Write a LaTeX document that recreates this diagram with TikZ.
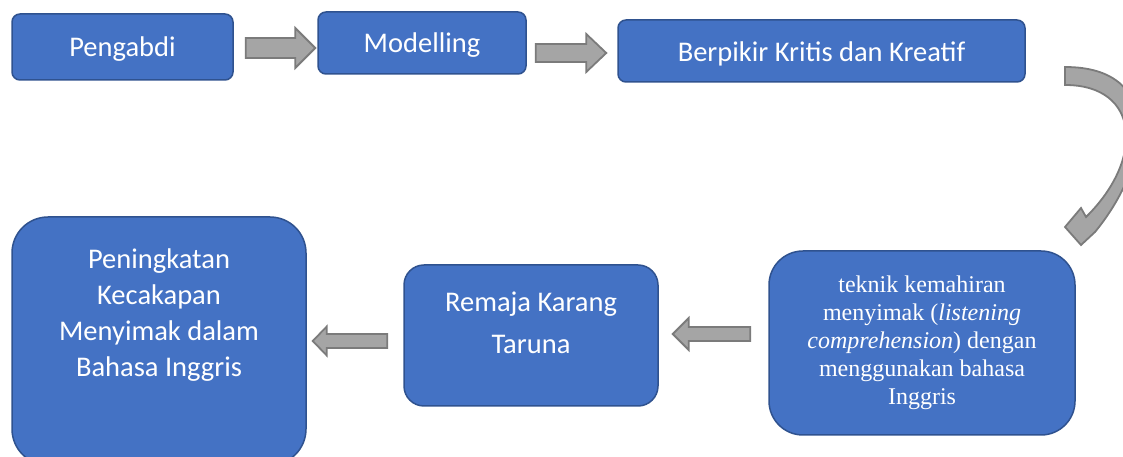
\documentclass[tikz,border=0pt]{standalone}
\usepackage{fontspec}
\setmainfont{Carlito}
\newfontfamily\timesfont{Liberation Serif}
\usetikzlibrary{calc}
\definecolor{boxblue}{HTML}{4472C4}
\definecolor{boxline}{HTML}{2F528F}
\definecolor{arrowfill}{HTML}{A5A5A5}
\definecolor{arrowline}{HTML}{7B7B7B}

\begin{document}
\begin{tikzpicture}[x=1pt,y=1pt,
  box node/.style={rectangle,draw=boxline,fill=boxblue,line width=1.5pt,text=white,align=center,
    font=\fontsize{28.5}{36}\selectfont},
  top node/.style={box node,rounded corners=8pt,text height=25pt,text depth=5pt},
  fat/.style args={#1/#2/#3}{draw=arrowline,fill=arrowfill,line width=1.8pt,line join=miter,
    to path={let \p1=(\tikztostart), \p2=(\tikztotarget), \n1={sign(\x2-\x1)} in
      (\x1,\y1+#1) -- (\x2-\n1*#3,\y1+#1) -- (\x2-\n1*#3,\y1+#2) -- (\x2,\y1)
      -- (\x2-\n1*#3,\y1-#2) -- (\x2-\n1*#3,\y1-#1) -- (\x1,\y1-#1) -- cycle}}]
  \clip (0,0) rectangle (1123,457);

  \node[top node,minimum width=221,minimum height=66] (pengabdi) at (122.5,410) {Pengabdi};
  \node[top node,minimum width=208,minimum height=62] (modelling) at (422,414) {Modelling};
  \node[top node,minimum width=407,minimum height=62,text height=26pt] (kritis) at (821.5,406) {Berpikir Kritis dan Kreatif};
  \node[box node,rounded corners=34pt,minimum width=306,minimum height=184,
    font=\timesfont\fontsize{24}{28}\selectfont] (teknik) at (922,114)
    {teknik kemahiran\\menyimak (\textit{listening}\\\textit{comprehension}) dengan\\menggunakan bahasa\\Inggris};
  \node[box node,rounded corners=20pt,minimum width=254,minimum height=141,
    font=\fontsize{28.5}{42}\selectfont,text depth=26pt] (remaja) at (531,121.5) {Remaja Karang\\Taruna};
  \node[box node,rounded corners=36pt,minimum width=294,minimum height=248,text depth=56pt] (hasil) at (159,116)
    {Peningkatan\\Kecakapan\\Menyimak dalam\\Bahasa Inggris};

  \draw[fat=10/20/20] ($(pengabdi.east)+(12,-1)$) to ($(modelling.west)+(-2,0)$);
  \draw[fat=9/19/20] ($(modelling.east)+(9,-10)$) to ($(kritis.west)+(-11,0)$);
  \draw[fat=7/16/16] ($(teknik.west)+(-18,9)$) to ($(remaja.east)+(14,0)$);
  \draw[fat=7/14.5/14] ($(remaja.west)+(-16,-5.5)$) to ($(hasil.east)+(6,0)$);

  % curved arrow from kritis down to teknik
  \draw[draw=arrowline,fill=arrowfill,line width=1.8pt,line join=miter]
    (1065,390) .. controls (1165,390) and (1151,293) .. (1095,225)
    -- (1081,212) -- (1065,230) -- (1081,249) -- (1086,240)
    .. controls (1145,298) and (1140,372) .. (1065,372) -- cycle;
\end{tikzpicture}
\end{document}
